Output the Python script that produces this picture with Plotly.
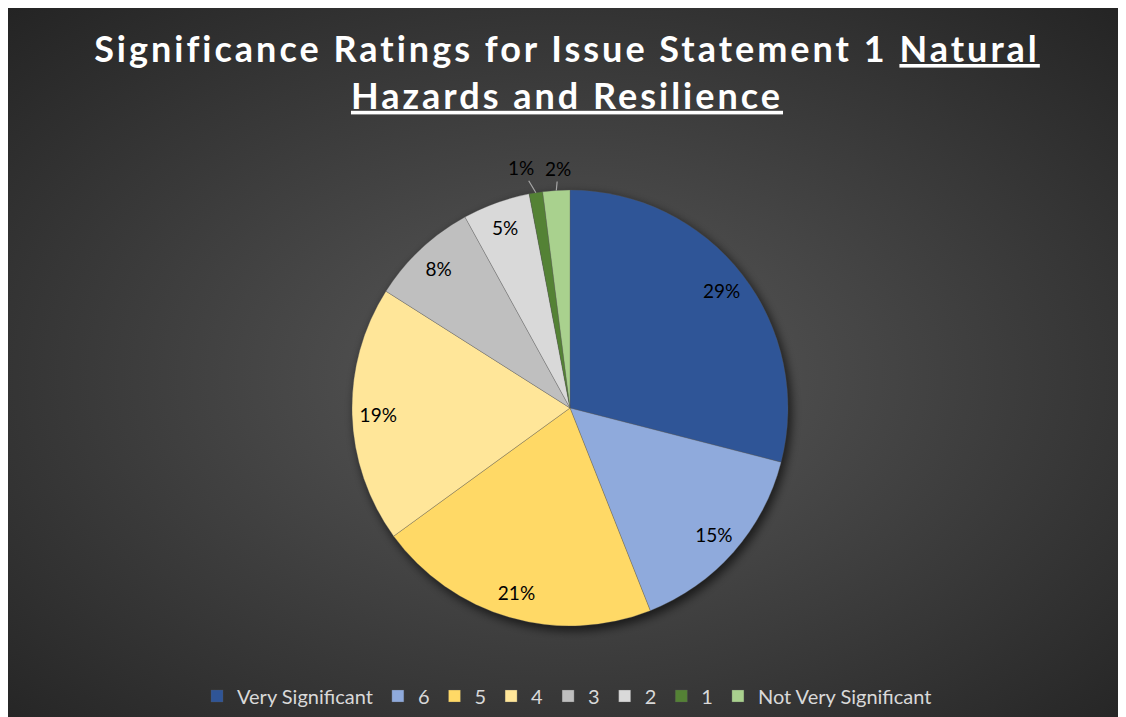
import base64
import math
import plotly.graph_objects as go

# the page adds an 8px body margin, so the figure is 8px smaller than the window
W, H = 1118, 709

labels = ["Very Significant", "6", "5", "4", "3", "2", "1", "Not Very Significant"]
values = [29, 15, 21, 19, 8, 5, 1, 2]
colors = ["#2F5597", "#8FAADC", "#FFD966", "#FFE699", "#BFBFBF", "#D9D9D9", "#548235", "#A9D18E"]
outside = [False, False, False, False, False, False, True, True]
# pixel nudge of the outside labels away from the slice edge
label_shift = {"1": (-15, -25), "Not Very Significant": (2, -22)}

# pie placement in figure pixels
cx, cy, r = 562, 400, 218
dom = dict(x=[(cx - r) / W, (cx + r) / W], y=[(H - cy - r) / H, (H - cy + r) / H])

# dark radial background + soft shadow behind the pie, as an svg image
svg = f'''<svg xmlns="http://www.w3.org/2000/svg" width="{W}" height="{H}" viewBox="0 0 {W} {H}" preserveAspectRatio="none">
<defs>
<radialGradient id="g" cx="50%" cy="52%" r="72%">
<stop offset="0" stop-color="#5a5a5a"/>
<stop offset="1" stop-color="#242424"/>
</radialGradient>
<filter id="b" x="-20%" y="-20%" width="140%" height="140%"><feGaussianBlur stdDeviation="5"/></filter>
</defs>
<rect width="{W}" height="{H}" fill="url(#g)"/>
<circle cx="{cx + 3}" cy="{cy + 4}" r="{r + 1}" fill="#000" fill-opacity="0.6" filter="url(#b)"/>
</svg>'''
src = "data:image/svg+xml;base64," + base64.b64encode(svg.encode()).decode()

lbl_font = dict(family="Lato", size=19, color="#000000")

fig = go.Figure()

# the slices
fig.add_trace(go.Pie(
    labels=labels, values=values, sort=False, direction="clockwise", rotation=0,
    marker=dict(colors=colors, line=dict(color="rgba(90,90,90,0.5)", width=0.6)),
    textinfo="none",
    domain=dom,
    hoverinfo="label+percent",
))

# transparent ring on top, only to put the percentages out near the rim
fig.add_trace(go.Pie(
    labels=labels, values=values, sort=False, direction="clockwise", rotation=0,
    hole=0.76,
    marker=dict(colors=["rgba(0,0,0,0)"] * len(labels), line=dict(width=0)),
    texttemplate=["" if o else "%{percent:.0%}" for o in outside],
    textposition="inside",
    insidetextorientation="horizontal",
    textfont=lbl_font,
    domain=dom,
    showlegend=False,
    hoverinfo="skip",
))

# the two tiny slices get their labels outside, with a leader line to the rim
total = sum(values)
cum = 0
for lab, v, o in zip(labels, values, outside):
    mid = 2 * math.pi * (cum + v / 2) / total
    cum += v
    if not o:
        continue
    ex, ey = cx + r * math.sin(mid), cy - r * math.cos(mid)
    ax, ay = label_shift[lab]
    fig.add_annotation(
        xref="paper", yref="paper", x=ex / W, y=1 - ey / H,
        text=f"{round(100 * v / total)}%", font=lbl_font,
        showarrow=True, arrowhead=0, arrowwidth=1.2, arrowcolor="#A6A6A6",
        ax=ax, ay=ay, standoff=0,
    )

title_txt = ("<span style='letter-spacing:3px'><b>Significance Ratings for Issue Statement 1 <u>Natural</u></b>"
             "<br><b><u>Hazards and Resilience</u></b></span>")

fig.update_layout(
    width=W, height=H,
    margin=dict(l=0, r=0, t=0, b=0),
    paper_bgcolor="#2a2a2a",
    plot_bgcolor="rgba(0,0,0,0)",
    images=[dict(source=src, xref="paper", yref="paper",
                 x=0, y=1, sizex=1, sizey=1,
                 xanchor="left", yanchor="top", sizing="stretch", layer="below")],
    title=dict(
        text=title_txt,
        x=0.5, xanchor="center", y=1 - 54 / H, yanchor="middle",
        font=dict(family="Lato", size=36, color="#FFFFFF"),
    ),
    legend=dict(
        orientation="h", x=0.5, xanchor="center", y=1 - 688 / H, yanchor="middle",
        font=dict(family="Lato", size=20, color="#D9D9D9"),
        bgcolor="rgba(0,0,0,0)",
    ),
    uniformtext=dict(mode="show", minsize=19),
)

fig.write_html("out.html")
